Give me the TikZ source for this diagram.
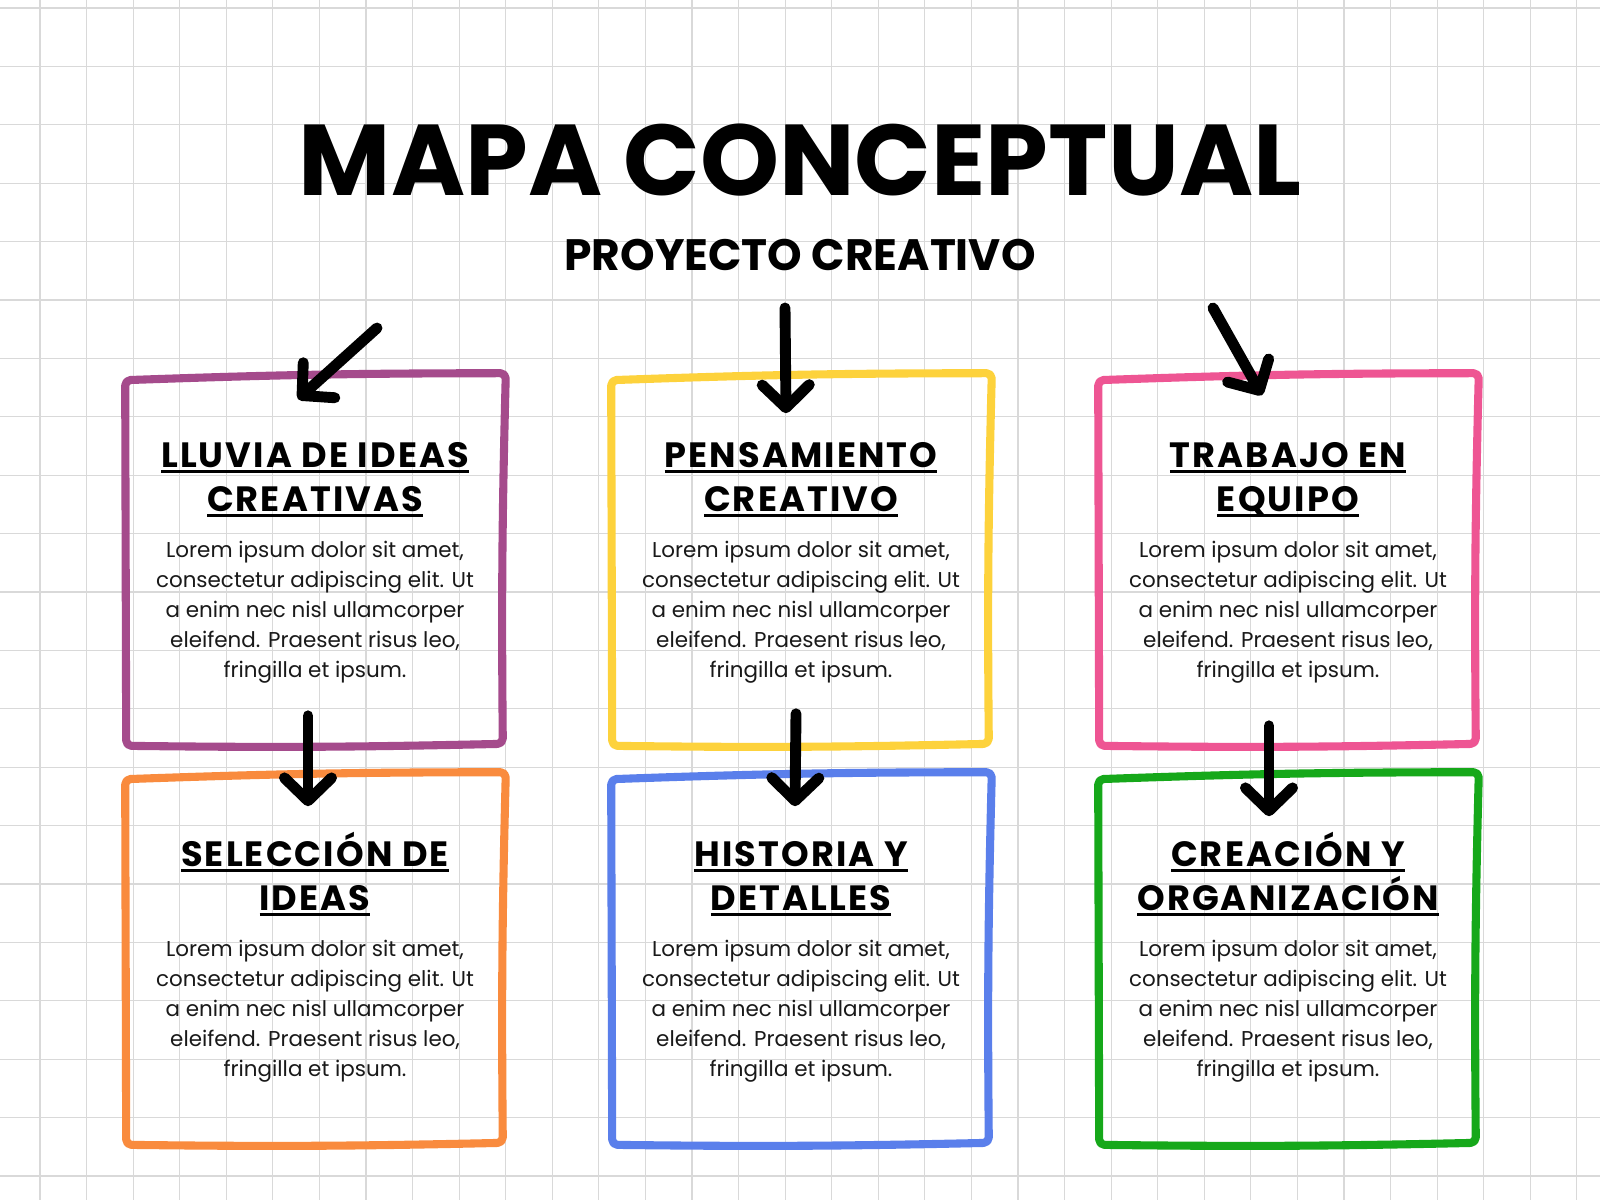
\documentclass[tikz,border=0pt]{standalone}
\usepackage{fontspec}
\setmainfont{Poppins}
\newfontfamily\rotulo{Poppins}[LetterSpace=6]
\usetikzlibrary{arrows.meta,calc}

\definecolor{morado}{HTML}{A54B8C}
\definecolor{amarillo}{HTML}{FDD23C}
\definecolor{rosa}{HTML}{EE5593}
\definecolor{naranja}{HTML}{F98B3E}
\definecolor{azul}{HTML}{5A7FEB}
\definecolor{verde}{HTML}{16A81A}

% underline one heading line
\newcommand{\subrayar}[1]{\setbox0\hbox{#1}\rlap{\rule[-1.7pt]{\wd0}{1pt}}\box0}
\newcommand{\lorem}{Lorem ipsum dolor sit amet,\\ consectetur adipiscing elit. Ut\\ a enim nec nisl ullamcorper\\ eleifend. Praesent risus leo,\\ fringilla et ipsum.}

\tikzset{
  rejilla/.style={gray!30, line width=0.35pt},
  caja/.style={rectangle, draw=none, minimum width=3.78cm, minimum height=3.66cm, inner sep=0pt},
  marco/.style={draw=#1, line width=2.3pt, line cap=round, line join=round, rounded corners=1.5pt},
  encabezado/.style={align=center, font=\rotulo\bfseries\fontsize{10}{12.5}\selectfont},
  cuerpo/.style={align=center, text=black!90, font=\fontsize{6.1}{8.5}\selectfont},
  flecha/.style={line width=3.1pt, line cap=round, line join=round,
    -{Straight Barb[length=6.5pt, width=13.4pt, line cap=round, line join=round]}}
}

\begin{document}
\begin{tikzpicture}[x=0.01cm, y=-0.01cm]
    \useasboundingbox[fill=white] (0,0) rectangle (1600,1200);
    % paper grid
    \foreach \gx in {40,86.57,...,1600} \draw[rejilla] (\gx,0) -- (\gx,1200);
    \foreach \gy in {8,66.4,...,1200} \draw[rejilla] (0,\gy) -- (1600,\gy);

    \node[anchor=base, font=\bfseries\fontsize{28.6}{30}\selectfont] (mapa) at (800,195) {MAPA CONCEPTUAL};
    \node[anchor=base, font=\bfseries\fontsize{12.5}{14}\selectfont] (proyecto) at (800,270) {PROYECTO CREATIVO};

    \foreach \nom/\col/\x/\y/\lina/\linb in {
        lluvia/morado/315/561/LLUVIA DE IDEAS/CREATIVAS,
        pensa/amarillo/801/561/PENSAMIENTO/CREATIVO,
        trabajo/rosa/1288/561/TRABAJO EN/EQUIPO,
        seleccion/naranja/315/960/SELECCIÓN DE/IDEAS,
        historia/azul/801/960/HISTORIA Y/DETALLES,
        creacion/verde/1288/960/CREACIÓN Y/ORGANIZACIÓN} {
        \node[caja] (\nom) at (\x,\y) {};
        \draw[marco=\col] ($(\nom.north west)+(0,3)$) to[bend left=1] ($(\nom.north east)+(1,-4)$)
            to[bend right=1] ($(\nom.south east)+(-2,-1)$) to[bend left=1] ($(\nom.south west)+(1,1)$) -- cycle;
        % base anchor sits on the last line
        \node[encabezado, anchor=base] (\nom-t) at ($(\nom.north)+(0,134)$) {\subrayar{\lina}\\\subrayar{\linb}};
        \node[cuerpo, anchor=base] (\nom-c) at ($(\nom.north)+(0,300)$) {\lorem};
    }

    \coordinate (c1) at (377,328);
    \coordinate (c2) at (785,308);
    \coordinate (c3) at (1213,308);
    \draw[flecha] (c1) -- ($(lluvia.north)+(-17,22)$);
    \draw[flecha] (c2) -- ($(pensa.north)+(-15,36)$);
    \draw[flecha] (c3) -- ($(trabajo.north)+(-26,18)$);
    \draw[flecha] ($(lluvia.south)+(-7,-29)$) -- ($(seleccion.north)+(-7,30)$);
    \draw[flecha] ($(pensa.south)+(-5,-31)$) -- ($(historia.north)+(-6,30)$);
    \draw[flecha] ($(trabajo.south)+(-19,-19)$) -- ($(creacion.north)+(-19,40)$);
\end{tikzpicture}
\end{document}
